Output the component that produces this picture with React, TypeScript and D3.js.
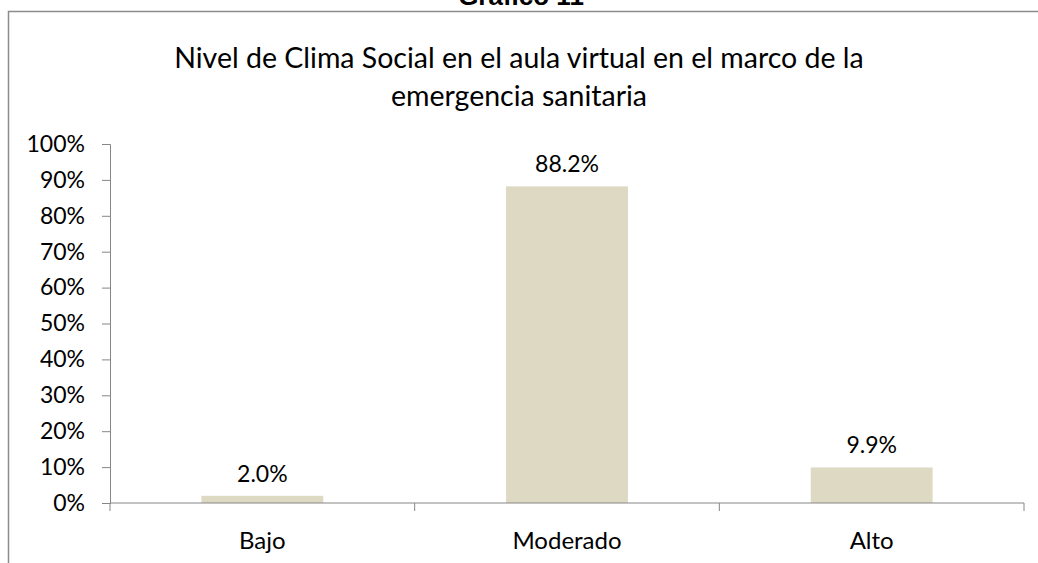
import { useEffect, useRef } from 'react';
import * as d3 from 'd3';

const categories = ['Bajo', 'Moderado', 'Alto'];
const values = [2.0, 88.2, 9.9];
const yTicks = [0, 10, 20, 30, 40, 50, 60, 70, 80, 90, 100];
const titleLines = [
  'Nivel de Clima Social en el aula virtual en el marco de la',
  'emergencia sanitaria',
];

const App = () => {
  const svgRef = useRef<SVGSVGElement>(null);

  useEffect(() => {
    if (!svgRef.current) return;
    const W = 1038;
    const H = 563;
    const font = 'Lato, "Noto Sans", sans-serif';
    const axisColor = '#868686';

    const svg = d3.select(svgRef.current);
    svg.selectAll('*').remove();

    // figure caption (cut off by the top edge, as in the source)
    svg.append('text')
      .attr('x', 521)
      .attr('y', 5)
      .attr('text-anchor', 'middle')
      .style('font-family', 'Arial, "Liberation Sans", sans-serif')
      .style('font-weight', 'bold')
      .style('font-size', '26px')
      .text('Gráfico 11');

    // chart frame
    svg.append('rect')
      .attr('x', 8.5)
      .attr('y', 11.5)
      .attr('width', W + 20)
      .attr('height', H + 20)
      .attr('fill', 'white')
      .attr('stroke', '#8c8c8c')
      .attr('stroke-width', 1.5);

    svg.selectAll('text.title')
      .data(titleLines)
      .enter()
      .append('text')
      .attr('class', 'title')
      .attr('x', 519)
      .attr('y', (d, i) => 68 + i * 38)
      .attr('text-anchor', 'middle')
      .style('font-family', font)
      .style('font-size', '28.5px')
      .style('fill', '#000')
      .text(d => d);

    const left = 110;
    const right = 1024;
    const top = 144;
    const bottom = 503;

    const x = d3.scaleBand().domain(categories).range([left, right]).paddingInner(0.6).paddingOuter(0.3);
    const xEdge = d3.scaleBand().domain(categories).range([left, right]);
    const y = d3.scaleLinear().domain([0, 100]).range([bottom, top]);

    // y axis
    const yAxis = svg.append('g').attr('transform', `translate(${left},0)`)
      .call(d3.axisLeft(y).tickValues(yTicks).tickSize(8).tickPadding(17).tickFormat(d => `${d}%`));
    yAxis.select('.domain').attr('stroke', axisColor);
    yAxis.selectAll('line').attr('stroke', axisColor);
    yAxis.selectAll('text')
      .style('font-family', font)
      .style('font-size', '23px')
      .style('fill', '#000');

    // bars
    svg.selectAll('rect.bar')
      .data(values)
      .enter()
      .append('rect')
      .attr('class', 'bar')
      .attr('x', (d, i) => x(categories[i])!)
      .attr('width', x.bandwidth())
      .attr('y', d => y(d))
      .attr('height', d => bottom - y(d))
      .attr('fill', '#ddd9c3');

    // x axis
    svg.append('line')
      .attr('x1', left).attr('x2', right)
      .attr('y1', bottom).attr('y2', bottom)
      .attr('stroke', axisColor).attr('stroke-width', 1);
    const edges = categories.map(c => xEdge(c)!).concat([right]);
    svg.selectAll('line.xtick')
      .data(edges)
      .enter()
      .append('line')
      .attr('class', 'xtick')
      .attr('x1', d => d).attr('x2', d => d)
      .attr('y1', bottom).attr('y2', bottom + 8)
      .attr('stroke', axisColor);

    svg.selectAll('text.cat')
      .data(categories)
      .enter()
      .append('text')
      .attr('class', 'cat')
      .attr('x', d => xEdge(d)! + xEdge.bandwidth() / 2)
      .attr('y', 549)
      .attr('text-anchor', 'middle')
      .style('font-family', font)
      .style('font-size', '24px')
      .text(d => d);

    // value labels
    svg.selectAll('text.val')
      .data(values)
      .enter()
      .append('text')
      .attr('class', 'val')
      .attr('x', (d, i) => x(categories[i])! + x.bandwidth() / 2)
      .attr('y', d => y(d) - 14)
      .attr('text-anchor', 'middle')
      .style('font-family', font)
      .style('font-size', '23px')
      .text(d => `${d.toFixed(1)}%`);
  }, []);

  return <svg ref={svgRef} width={1038} height={563} style={{ position: 'absolute', left: 0, top: 0 }} />;
};

export default App;
